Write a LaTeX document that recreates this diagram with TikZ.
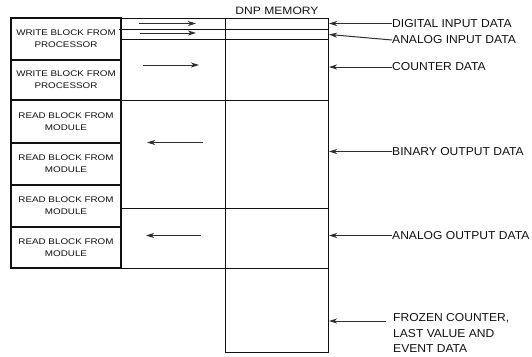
\documentclass[tikz,border=0pt]{standalone}
\usepackage{fontspec}
\setmainfont{Liberation Sans}
\newfontfamily\blkfont[FakeStretch=1.2]{Liberation Sans}
\newfontfamily\labfont[FakeStretch=1.05]{Liberation Sans}
\newfontfamily\ttlfont[FakeStretch=1.13]{Liberation Sans}
\usetikzlibrary{arrows.meta}
\definecolor{ink}{HTML}{111111}
\definecolor{arrc}{HTML}{2E2E2E}
\begin{document}
\begin{tikzpicture}[x=1pt,y=-1pt,
  blk/.style={draw=ink, line width=1.2pt, minimum width=110pt, inner sep=0pt, align=center,
    font=\blkfont\fontsize{8.2}{12}\selectfont, text=ink},
  col/.style={draw=ink, line width=0.9pt, inner sep=0pt, anchor=north west},
  grid/.style={draw=ink, line width=0.9pt},
  arr/.style={draw=arrc, line width=1pt, -{Stealth[length=8pt,width=5pt,inset=2.2pt]}},
  lbl/.style={inner sep=0pt, anchor=west, font=\labfont\fontsize{11.5}{15.5}\selectfont, text=ink, align=left}
]
\useasboundingbox (0,0) rectangle (532,356);

% left column blocks
\node[blk, minimum height=42pt] (w1) at (66,39) {WRITE BLOCK FROM\\PROCESSOR};
\node[blk, minimum height=40pt] (w2) at (66,80) {WRITE BLOCK FROM\\PROCESSOR};
\node[blk, minimum height=43pt] (r1) at (66,121.5) {READ BLOCK FROM\\MODULE};
\node[blk, minimum height=42pt] (r2) at (66,164) {READ BLOCK FROM\\MODULE};
\node[blk, minimum height=42pt] (r3) at (66,206) {READ BLOCK FROM\\MODULE};
\node[blk, minimum height=41pt] (r4) at (66,247.5) {READ BLOCK FROM\\MODULE};

% middle and memory columns
\node[col, minimum width=104pt, minimum height=250pt] (mid) at (121,18) {};
\node[col, minimum width=103pt, minimum height=334pt] (mem) at (225,18) {};
\node[inner sep=0pt, font=\ttlfont\fontsize{10.7}{12}\selectfont, text=ink] (ttl) at (277,11) {DNP MEMORY};

\draw[grid] (119,29) -- (328,29);
\draw[grid] (121,39) -- (328,39);
\draw[grid] (121,100) -- (328,100);
\draw[grid] (121,208) -- (328,208);
\draw[grid] (225,268) -- (328,268);

% arrows in the middle column
\coordinate (a1s) at (139,23.5); \coordinate (a1e) at (196,23.5);
\coordinate (a2s) at (140,33);   \coordinate (a2e) at (196,33);
\coordinate (a3s) at (143,65);   \coordinate (a3e) at (199,65);
\coordinate (a4s) at (203,142.5); \coordinate (a4e) at (147,142.5);
\coordinate (a5s) at (201,235.5); \coordinate (a5e) at (146,235.5);
\draw[arr] (a1s) -- (a1e);
\draw[arr] (a2s) -- (a2e);
\draw[arr] (a3s) -- (a3e);
\draw[arr] (a4s) -- (a4e);
\draw[arr] (a5s) -- (a5e);

% right labels
\node[lbl] (di) at (392,23.5) {DIGITAL INPUT DATA};
\node[lbl] (ai) at (392,40) {ANALOG INPUT DATA};
\node[lbl] (cd) at (392,67) {COUNTER DATA};
\node[lbl] (bo) at (392,151.5) {BINARY OUTPUT DATA};
\node[lbl] (ao) at (392,235.5) {ANALOG OUTPUT DATA};
\node[lbl, anchor=north west] (fz) at (393,313.5) {FROZEN COUNTER,\\LAST VALUE AND\\EVENT DATA};
\coordinate (fzs) at (386,321);

\coordinate (t1) at (329,23.5);
\coordinate (t2) at (329,34.5);
\coordinate (t3) at (329,67);
\coordinate (t4) at (329,151.5);
\coordinate (t5) at (329,235.5);
\coordinate (t6) at (329,321);
\draw[arr] (di.west) -- (t1);
\draw[arr] (ai.west) -- (t2);
\draw[arr] (cd.west) -- (t3);
\draw[arr] (bo.west) -- (t4);
\draw[arr] (ao.west) -- (t5);
\draw[arr] (fzs) -- (t6);
\end{tikzpicture}
\end{document}
